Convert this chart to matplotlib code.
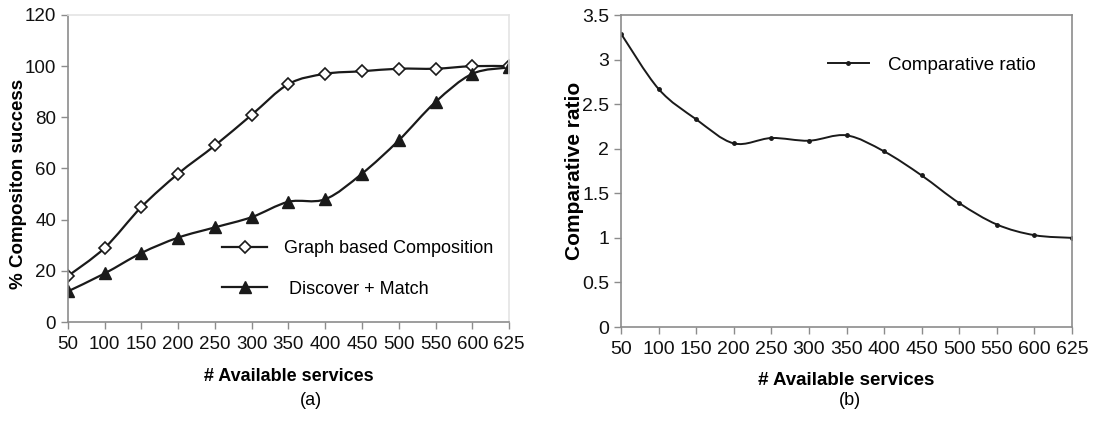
import numpy as np
import matplotlib
matplotlib.use('Agg')
import matplotlib.pyplot as plt
from matplotlib.path import Path
from matplotlib.patches import PathPatch
from matplotlib.lines import Line2D

plt.rcParams['font.family'] = ['Liberation Sans', 'DejaVu Sans']

services = ['50', '100', '150', '200', '250', '300', '350', '400', '450', '500', '550', '600', '625']
graph_based = [18, 29, 45, 58, 69, 81, 93, 97, 98, 99, 99, 100, 100]
discover_match = [12, 19, 27, 33, 37, 41, 47, 48, 58, 71, 86, 97, 99.5]
comp_ratio = [3.29, 2.67, 2.33, 2.06, 2.12, 2.09, 2.15, 1.97, 1.70, 1.39, 1.15, 1.03, 1.00]

LINE = '#1a1a1a'
AXC = '#8c8c8c'


def smooth_path(x, y):
    # excel-style smoothed line: cubic bezier through the points
    p = np.column_stack([x, y]).astype(float)
    n = len(p)
    verts = [p[0]]
    codes = [Path.MOVETO]
    for i in range(n - 1):
        p0 = p[i - 1] if i > 0 else p[i]
        p3 = p[i + 2] if i + 2 < n else p[i + 1]
        c1 = p[i] + (p[i + 1] - p0) / 6.0
        c2 = p[i + 1] - (p3 - p[i]) / 6.0
        verts += [c1, c2, p[i + 1]]
        codes += [Path.CURVE4] * 3
    return Path(verts, codes)


def style_axes(ax, frame_color, fs):
    for side in ['left', 'bottom']:
        ax.spines[side].set_color(AXC)
        ax.spines[side].set_linewidth(1.2)
    for side in ['top', 'right']:
        ax.spines[side].set_color(frame_color)
        ax.spines[side].set_linewidth(1.2)
    ax.tick_params(axis='both', colors=AXC, labelcolor='#111111', labelsize=fs,
                   length=5, width=1, direction='out')
    ax.tick_params(axis='x', pad=5)
    ax.set_xticks(range(len(services)))
    ax.set_xticklabels(services)
    ax.set_xlim(0, len(services) - 1)


fig = plt.figure(figsize=(10.93, 4.38), dpi=100)
idx = np.arange(len(services))

# (a)
ax1 = fig.add_axes([0.0622, 0.2648, 0.4035, 0.701])
ax1.add_patch(PathPatch(smooth_path(idx, graph_based), fill=False, color=LINE, lw=1.6))
ax1.add_patch(PathPatch(smooth_path(idx, discover_match), fill=False, color=LINE, lw=1.6))
ax1.plot(idx, graph_based, linestyle='none', marker='D', ms=6, mfc='white', mec=LINE, mew=1.2)
ax1.plot(idx, discover_match, linestyle='none', marker='^', ms=8.5, mfc=LINE, mec=LINE)
ax1.set_ylim(0, 120)
ax1.set_yticks(range(0, 121, 20))
style_axes(ax1, '#e4e4e4', 13.5)
ax1.set_xlabel('# Available services', fontsize=13, fontweight='bold', labelpad=11)
ax1.set_ylabel('% Compositon success', fontsize=13.5, fontweight='bold')
ax1.yaxis.set_label_coords(-0.093, 0.45)
h1 = [Line2D([], [], color=LINE, lw=1.6, marker='D', ms=6, mfc='white', mec=LINE, mew=1.2),
      Line2D([], [], color=LINE, lw=1.6, marker='^', ms=8.5, mfc=LINE, mec=LINE)]
ax1.legend(h1, ['Graph based Composition', ' Discover + Match'], loc='upper left',
           bbox_to_anchor=(0.313, 0.319), frameon=False, fontsize=13,
           handlelength=2.5, handletextpad=0.9, labelspacing=1.3)

# (b)
ax2 = fig.add_axes([0.5682, 0.2534, 0.4126, 0.7123])
ax2.add_patch(PathPatch(smooth_path(idx, comp_ratio), fill=False, color=LINE, lw=1.4))
ax2.plot(idx, comp_ratio, linestyle='none', marker='o', ms=2.5, mfc=LINE, mec=LINE)
ax2.set_ylim(0, 3.5)
ax2.set_yticks(np.arange(0, 3.51, 0.5))
ax2.set_yticklabels(['0', '0.5', '1', '1.5', '2', '2.5', '3', '3.5'])
style_axes(ax2, AXC, 14)
ax2.set_xlabel('# Available services', fontsize=13.5, fontweight='bold', labelpad=10)
ax2.set_ylabel('Comparative ratio', fontsize=15, fontweight='bold')
ax2.yaxis.set_label_coords(-0.083, 0.5)
h2 = [Line2D([], [], color=LINE, lw=1.4, marker='o', ms=2.5, mfc=LINE, mec=LINE)]
ax2.legend(h2, ['Comparative ratio'], loc='upper left', bbox_to_anchor=(0.421, 0.92),
           frameon=False, fontsize=13.5, handlelength=2.2, handletextpad=1.0)

fig.text(0.2845, 0.085, '(a)', fontsize=13, ha='center', va='center')
fig.text(0.778, 0.085, '(b)', fontsize=13, ha='center', va='center')

fig.savefig('out.png', dpi=100)
